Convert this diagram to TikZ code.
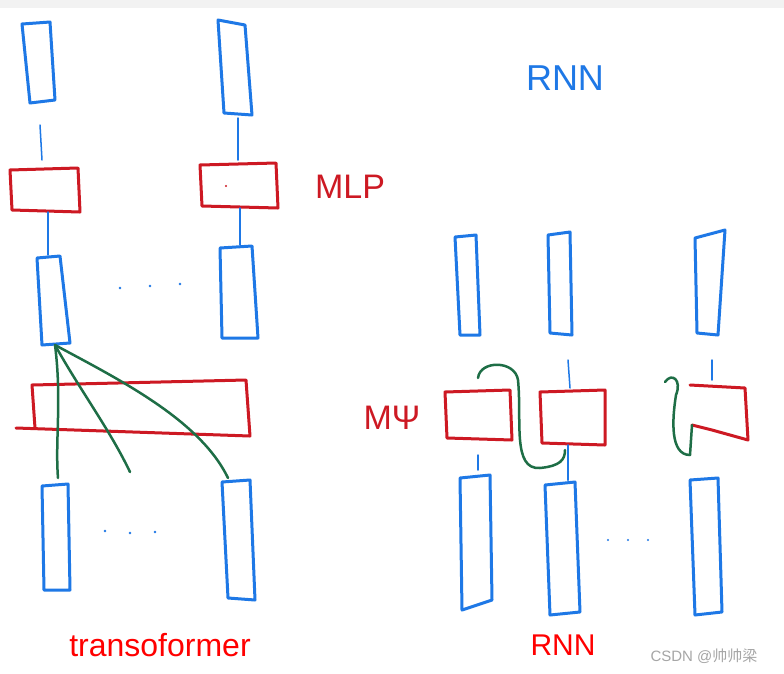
\documentclass[tikz,border=0pt]{standalone}
\usepackage{fontspec}
\setmainfont{Liberation Sans}
\newfontfamily\cjk{Noto Sans CJK SC}
\begin{document}
\begin{tikzpicture}[x=1pt,y=-1pt,line cap=round,line join=round]
\definecolor{pb}{RGB}{30,120,230}
\definecolor{pr}{RGB}{205,25,35}
\definecolor{pg}{RGB}{30,110,70}
\tikzset{bb/.style={draw=pb,line width=3pt},rb/.style={draw=pr,line width=3pt},gl/.style={draw=pg,line width=2.5pt},
lbl/.style={inner sep=0pt,anchor=center}}
\useasboundingbox[fill=white] (0,0) rectangle (784,673);
\fill[gray!10] (0,0) rectangle (784,8);
% left column 1
\draw[bb] (22,24) -- (50,22) -- (55,100) -- (30,103) -- cycle;
\draw[bb,line width=1.5pt] (40,125) -- (42,160);
\draw[rb] (10,170) -- (78,168) -- (80,212) -- (12,210) -- cycle;
\draw[bb,line width=1.5pt] (48,212) -- (48,255);
\draw[bb] (37,258) -- (60,256) -- (70,343) -- (42,345) -- cycle;
\draw[bb] (42,486) -- (68,484) -- (70,590) -- (44,590) -- cycle;
% left column 2
\draw[bb] (218,20) -- (245,25) -- (252,115) -- (224,113) -- cycle;
\draw[bb,line width=1.5pt] (238,118) -- (238,160);
\draw[rb] (200,165) -- (276,163) -- (278,208) -- (202,206) -- cycle;
\fill[pr] (226,186) circle (1.2pt);
\draw[bb,line width=1.5pt] (240,208) -- (240,245);
\draw[bb] (220,248) -- (252,246) -- (258,338) -- (222,338) -- cycle;
\draw[bb] (222,482) -- (250,480) -- (255,600) -- (228,598) -- cycle;
% big red
\draw[rb] (16,428) -- (250,436) -- (246,380) -- (32,385) -- (35,428);
% green
\draw[gl] (55,345) .. controls (62,400) and (55,440) .. (58,478);
\draw[gl] (55,345) .. controls (80,390) and (110,430) .. (130,472);
\draw[gl] (55,345) .. controls (120,380) and (200,420) .. (228,478);
% dots
\fill[pb] (120,288) circle (1.3pt) (150,286) circle (1.3pt) (180,284) circle (1.3pt);
\fill[pb] (105,531) circle (1.3pt) (130,533) circle (1.3pt) (155,532) circle (1.3pt);
\node[lbl,text=pr,font=\fontsize{34}{34}\selectfont] (mlp) at (350,187) {MLP};
\node[lbl,text=pb,font=\fontsize{36}{36}\selectfont] (rnnt) at (565,78) {RNN};
\node[lbl,text=pr,font=\fontsize{34}{34}\selectfont] (mpsi) at (392,418) {MΨ};
% RNN tops
\draw[bb] (455,237) -- (476,235) -- (480,335) -- (460,335) -- cycle;
\draw[bb] (548,235) -- (570,232) -- (572,335) -- (550,333) -- cycle;
\draw[bb] (695,238) -- (725,230) -- (718,335) -- (697,333) -- cycle;
\draw[bb,line width=1.5pt] (568,360) -- (570,388);
\draw[bb,line width=1.5pt] (712,360) -- (712,380);
% red boxes
\draw[rb] (445,392) -- (510,390) -- (512,440) -- (447,438) -- cycle;
\draw[rb] (540,392) -- (605,390) -- (605,445) -- (542,443) -- cycle;
\draw[rb] (690,385) -- (745,388) -- (748,440) -- (712,430) -- (692,425);
% green curves
\draw[gl] (478,378) .. controls (480,360) and (515,360) .. (518,380) .. controls (522,420) and (512,470) .. (540,468) .. controls (560,466) and (565,460) .. (565,450);
\draw[gl] (665,382) .. controls (672,372) and (682,380) .. (676,395) .. controls (672,420) and (670,455) .. (690,455) -- (692,425);
\draw[bb,line width=1.5pt] (478,455) -- (478,470);
\draw[bb,line width=2pt] (568,445) -- (568,480);
% RNN bottoms
\draw[bb] (460,478) -- (490,475) -- (492,600) -- (462,610) -- cycle;
\draw[bb] (545,485) -- (575,482) -- (580,612) -- (550,615) -- cycle;
\draw[bb] (690,480) -- (718,478) -- (722,612) -- (695,615) -- cycle;
\fill[pb] (608,540) circle (1.2pt) (628,540) circle (1.2pt) (648,540) circle (1.2pt);
% labels
\node[lbl,text=red,font=\fontsize{32}{32}\selectfont] (t1) at (160,645) {transoformer};
\node[lbl,text=red,font=\fontsize{30}{30}\selectfont] (t2) at (563,645) {RNN};
\node[lbl,text=gray!70,font=\fontsize{15}{15}\selectfont] (t3) at (704,656) {CSDN @{\cjk 帅帅梁}};
\end{tikzpicture}
\end{document}
